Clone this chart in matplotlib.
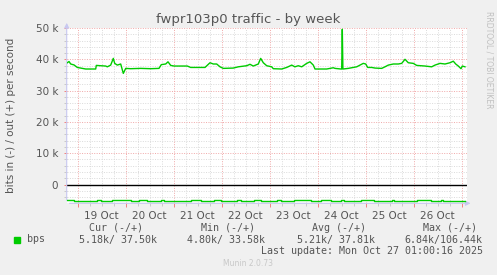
import matplotlib
matplotlib.use('Agg')
import matplotlib.pyplot as plt

# hours since 19 Oct 00:00 / value in k bits per second
out_hours = [-5.2, -4.35, -3.5, -1.85, -0.2, 1.5, 4, 9, 9.3, 11.5, 14, 14.8, 16.5, 17.8, 18.5,
             19.8, 21.5, 22.8, 24, 26.5, 31.5, 36.5, 40.65, 41.8, 44, 45.15, 46.5, 48.15, 54.8, 56.5,
             61.15, 63.65, 66.15, 67.8, 69.5, 71.15, 72.8, 77.8, 80.3, 84.5, 86.15, 87.8, 90.3, 91.5,
             92.8, 94.5, 97, 97.8, 102, 104.5, 107, 108.6, 110.3, 112, 114.5, 116.15, 117.8, 118.65,
             124.5, 127.8, 128.65, 131.65, 132.0, 132.3, 132.6, 135.3, 137.8, 139.5, 141.15, 142.8,
             144, 145, 147, 148.65, 152, 153.65, 155.3, 157.8, 160.3, 162, 163.65, 165.3, 167.8,
             169.5, 173.65, 177, 178.65, 181.15, 183.65, 186.15, 187.8, 189, 190.3, 191.65, 192.3, 193.65]
out_kbps = [38.9, 39.3, 38.5, 38.2, 37.4, 37.2, 36.9, 36.9, 38.05, 37.95, 37.85, 37.6, 38.15, 40.3, 38.7,
            38.15, 38.5, 35.5, 37.1, 37.0, 37.1, 37.0, 37.1, 38.3, 38.5, 39.2, 38.05, 37.85, 37.85, 37.4,
            37.4, 37.4, 38.9, 38.5, 38.5, 37.6, 37.1, 37.2, 37.6, 37.95, 38.4, 37.85, 38.5, 40.3,
            38.9, 37.95, 37.6, 37.0, 36.9, 37.4, 38.15, 37.6, 37.95, 37.6, 38.7, 39.2, 38.15, 36.9,
            36.9, 37.3, 37.1, 36.9, 36.9, 49.6, 36.9, 37.1, 37.4, 37.6, 38.15, 38.7,
            38.5, 37.4, 37.4, 37.2, 37.1, 37.6, 38.15, 38.5, 38.5, 38.7, 40.0, 38.9, 38.7,
            38.05, 37.85, 37.6, 38.15, 38.7, 38.5, 38.9, 39.4, 38.5, 37.85, 37.0, 37.85, 37.6]

in_hours = [-5.2, -1.8, 9.8, 11.5, 17.3, 26.5, 30.7, 34.8, 41.5, 43.2, 56.5, 61.5, 68, 71.5,
            79.8, 81.5, 88, 91.5, 99.8, 101.5, 108, 116.5, 121.5, 126.5, 131.5, 133, 141.5, 148,
            157, 158, 169.5, 176.5, 181.5, 182.5, 193.65]
in_kbps = [-5.05, -5.3, -5.05, -5.3, -5.05, -5.3, -5.05, -5.3, -5.05, -5.3, -5.05, -5.3, -5.05, -5.3,
           -5.05, -5.3, -5.05, -5.3, -5.05, -5.3, -5.05, -5.3, -5.05, -5.3, -5.05, -5.3, -5.05, -5.15,
           -5.0, -5.15, -5.0, -5.15, -5.0, -5.15, -5.15]

day_labels = ['19 Oct', '20 Oct', '21 Oct', '22 Oct', '23 Oct', '24 Oct', '25 Oct', '26 Oct']
ytick_vals = [0, 10, 20, 30, 40, 50]
ytick_labels = ['0', '10 k', '20 k', '30 k', '40 k', '50 k']

bg = '#F0F0F0'
txt = '#555555'
fig = plt.figure(figsize=(4.97, 2.75), dpi=100, facecolor=bg)
ax = fig.add_axes([66.7 / 497, 71.7 / 275, 400.6 / 497, 175.3 / 275])
ax.set_facecolor('white')
ax.set_xlim(-5.5, 194.8)
ax.set_ylim(-6, 50)
for s in ax.spines.values():
    s.set_visible(False)

# grid: minor grey, major red (dotted, munin style)
dot = (0, (1, 1.5))
minor_x = [h for h in range(6, 195, 6) if h % 24]
minor_y = [v for v in range(-4, 50, 2) if v % 10]
for h in minor_x:
    ax.axvline(h, color='#DADADA', lw=0.7, ls=dot, zorder=1)
for v in minor_y:
    ax.axhline(v, color='#DADADA', lw=0.7, ls=dot, zorder=1)
for h in range(0, 195, 24):
    ax.axvline(h, color='#F0A8A8', lw=0.7, ls=dot, zorder=2)
for v in [10, 20, 30, 40, 50]:
    ax.axhline(v, color='#F0A8A8', lw=0.7, ls=dot, zorder=2)

ax.axhline(0, color='black', lw=1.0, zorder=3)
ax.plot(out_hours, out_kbps, color='#00CC00', lw=1.0, zorder=4)
ax.step(in_hours, in_kbps, where='post', color='#00CC00', lw=1.0, zorder=4)

ax.set_xticks(range(0, 195, 24))
ax.set_xticklabels([])
ax.set_xticks(minor_x, minor=True)
ax.tick_params(axis='x', which='major', length=3, color='#F08080', width=0.7)
ax.tick_params(axis='x', which='minor', length=2, color='#C8C8C8', width=0.7)
for i, lab in enumerate(day_labels):
    ax.text(12 + 24 * i, -0.045, lab, transform=ax.get_xaxis_transform(),
            ha='center', va='top', fontsize=7.5, color=txt)
ax.set_yticks(ytick_vals)
ax.set_yticklabels(ytick_labels, fontsize=7.5, color=txt)
ax.set_yticks(minor_y, minor=True)
ax.tick_params(axis='y', which='major', length=2, color='#F08080', width=0.7, pad=4)
ax.tick_params(axis='y', which='minor', length=2, color='#C8C8C8', width=0.7)

# axis arrows
ax.annotate('', xy=(0, 1.045), xytext=(0, 0), xycoords='axes fraction',
            arrowprops=dict(arrowstyle='-|>', color='#C8C8F0', lw=0.8, mutation_scale=7),
            annotation_clip=False)
ax.annotate('', xy=(1.015, 0), xytext=(0, 0), xycoords='axes fraction',
            arrowprops=dict(arrowstyle='-|>', color='#C8C8F0', lw=0.8, mutation_scale=7),
            annotation_clip=False)

fig.text(248 / 497, 1 - 19 / 275, 'fwpr103p0 traffic - by week', ha='center', va='center',
         fontsize=9.5, color=txt)
fig.text(11 / 497, 1 - 115 / 275, 'bits in (-) / out (+) per second', rotation=90,
         ha='center', va='center', fontsize=7.5, color=txt)
fig.text(489 / 497, 1 - 60 / 275, 'RRDTOOL / TOBI OETIKER', rotation=270,
         ha='center', va='center', fontsize=5.5, color='#C0C0C0')

mono = 'DejaVu Sans Mono'
fs = 7.2
fig.patches.append(plt.Rectangle((14 / 497, 1 - 242.5 / 275), 6 / 497, 6 / 275,
                                 transform=fig.transFigure, color='#00CC00'))
fig.text(26.7 / 497, 1 - 239.5 / 275, 'bps', family=mono, fontsize=fs, color=txt, va='center')
heads = ['Cur (-/+)', 'Min (-/+)', 'Avg (-/+)', 'Max (-/+)']
head_x = [89.3, 201, 312.3, 422.7]
vals = ['5.18k/ 37.50k', '4.80k/ 33.58k', '5.21k/ 37.81k', '6.84k/106.44k']
val_x = [157.3, 264.7, 375, 482.7]
for h, hx, v, vx in zip(heads, head_x, vals, val_x):
    fig.text(hx / 497, 1 - 228 / 275, h, family=mono, fontsize=fs, color=txt, va='center')
    fig.text(vx / 497, 1 - 239.5 / 275, v, family=mono, fontsize=fs, color=txt, va='center', ha='right')
fig.text(482.7 / 497, 1 - 251 / 275, 'Last update: Mon Oct 27 01:00:16 2025', family=mono,
         fontsize=fs, color=txt, va='center', ha='right')
fig.text(248 / 497, 1 - 264 / 275, 'Munin 2.0.73', fontsize=5.5, color='#C8C8C8',
         ha='center', va='center')

fig.savefig('out.png', dpi=100, facecolor=bg)
